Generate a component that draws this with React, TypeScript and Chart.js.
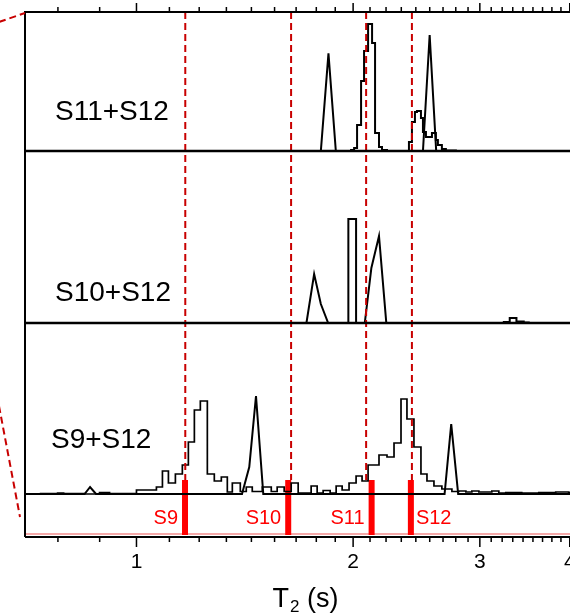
import React, { useEffect, useRef } from "react";
import { Chart, registerables } from "chart.js";
Chart.register(...registerables);

const FONT = '"Liberation Sans", Arial, sans-serif';
const X_MIN = 0.7;
const X_MAX = 4.2;
const Y_MIN = -0.43;
const Y_MAX = 4.82;
const majorTicks = [1, 2, 3, 4];
const majorTickLabels = ["1", "2", "3", "4"];
const minorDivisions = 9;

// panel baselines (stack offsets) and labels
const panelNames = ["S11+S12", "S10+S12", "S9+S12"];
const panelOffsets = [3.43, 1.71, 0];
const panelLabelY = [3.82, 2.01, 0.54];

// S11+S12 panel
const topHistT = [0.7, 1.9869, 2.0064, 2.0255, 2.0516, 2.0713, 2.0981, 2.1251, 2.1455, 2.1727, 2.1936, 2.2291, 2.3912, 2.4142, 2.4375, 2.4533, 2.4848, 2.5008, 2.5248, 2.5493, 2.5738, 2.6065, 2.6232, 2.6569, 2.6911, 2.7788, 4.2];
const topHistI = [0, 0.01, 0.03, 0.26, 0.7, 1.0, 1.27, 1.08, 0.18, 0.04, 0.01, 0, 0.09, 0.29, 0.39, 0.4, 0.33, 0.19, 0.14, 0.14, 0.18, 0.11, 0.06, 0.02, 0.005, 0, 0];
const topLineT = [0.7, 1.8038, 1.8483, 1.8924, 2.5008, 2.555, 2.609, 4.2];
const topLineI = [0, 0, 0.977, 0, 0, 1.16, 0, 0];

// S10+S12 panel
const midHistT = [0.7, 1.9698, 2.0191, 3.2391, 3.3011, 3.3728, 3.4524, 3.5081, 4.2];
const midHistI = [0, 1.04, 0, 0.01, 0.05, 0.015, 0.005, 0, 0];
const midLineT = [0.7, 1.7226, 1.7655, 1.8038, 1.8465, 2.076, 2.1203, 2.1727, 2.2241, 4.2];
const midLineI = [0, 0, 0.49, 0.19, 0, 0, 0.55, 0.87, 0, 0];

// S9+S12 panel
const botHistT = [0.7338, 0.777, 0.7921, 0.847, 0.8885, 0.9175, 0.9594, 1.0, 1.0659, 1.0866, 1.1076, 1.1326, 1.1581, 1.1806, 1.2035, 1.2267, 1.2545, 1.2828, 1.3119, 1.3373, 1.3589, 1.394, 1.4209, 1.4484, 1.4956, 1.5392, 1.5686, 1.6041, 1.6405, 1.6776, 1.7101, 1.7486, 1.7826, 1.8171, 1.8583, 1.8943, 1.9309, 1.9742, 2.0191, 2.0581, 2.0981, 2.1727, 2.2291, 2.2797, 2.3312, 2.376, 2.4297, 2.4848, 2.5331, 2.5904, 2.6569, 2.7436, 2.8054, 2.8691, 2.9246, 2.9907, 3.0582, 3.1173, 3.1878, 3.2592, 3.4304, 3.6224, 3.8246, 3.9863, 4.2];
const botHistI = [0.005, 0.01, 0.005, 0, 0.015, 0.005, 0.003, 0.04, 0.07, 0.23, 0.11, 0.2, 0.29, 0.52, 0.84, 0.93, 0.2, 0.13, 0.17, 0.02, 0.11, 0.025, 0.07, 0.025, 0.07, 0.025, 0.07, 0.025, 0.11, 0.01, 0.01, 0.08, 0.01, 0.035, 0.01, 0.08, 0.04, 0.11, 0.18, 0.13, 0.29, 0.39, 0.37, 0.51, 0.95, 0.75, 0.47, 0.2, 0.13, 0.08, 0.05, 0.025, 0.03, 0.02, 0.03, 0.02, 0.02, 0.03, 0.01, 0.015, 0.01, 0.015, 0.02, 0.015, 0.015];
const botLineT = [0.7, 0.847, 0.862, 0.8786, 1.4016, 1.4346, 1.4658, 1.5004, 2.68, 2.7375, 2.7991, 4.2];
const botLineI = [0, 0, 0.07, 0, 0, 0.27, 0.98, 0, 0, 0.7, 0, 0];

// sample markers and guide lines
const markerNames = ["S9", "S10", "S11", "S12"];
const markerT = [1.168, 1.625, 2.122, 2.406];
const guideT = [1.169, 1.64, 2.085, 2.414];
const MARK_TOP = 0.14;
const MARK_BOTTOM = -0.41;
const PINK_Y = -0.4;
const MARK_LABEL_Y = -0.24;

const pts = (ts: number[], is: number[], off: number) =>
  ts.map((t, i) => ({ x: t, y: is[i] + off }));

const decor = {
  id: "decor",
  afterDatasetsDraw(chart: any) {
    const { ctx, chartArea: a, scales } = chart;
    const x = scales.x;
    const y = scales.y;
    ctx.save();
    // frame
    ctx.strokeStyle = "#000";
    ctx.lineWidth = 2;
    ctx.beginPath();
    ctx.moveTo(a.left, a.bottom);
    ctx.lineTo(a.left, a.top);
    ctx.lineTo(a.right, a.top);
    ctx.moveTo(a.left, a.bottom);
    ctx.lineTo(a.right, a.bottom);
    ctx.stroke();
    // panel separators
    ctx.lineWidth = 2.5;
    [panelOffsets[0], panelOffsets[1]].forEach((off) => {
      const py = y.getPixelForValue(off);
      ctx.beginPath();
      ctx.moveTo(a.left, py);
      ctx.lineTo(a.right, py);
      ctx.stroke();
    });
    // ticks
    ctx.lineWidth = 1.5;
    const drawTick = (v: number, lenB: number, lenT: number) => {
      const px = x.getPixelForValue(v);
      if (px < a.left + 1 || px > a.right) return;
      ctx.beginPath();
      ctx.moveTo(px, a.bottom);
      ctx.lineTo(px, a.bottom + lenB);
      ctx.moveTo(px, a.top);
      ctx.lineTo(px, a.top - lenT);
      ctx.stroke();
    };
    majorTicks.forEach((v) => drawTick(v, 10, 9));
    for (let n = 0; n <= 4; n++) {
      for (let k = 1; k < minorDivisions; k++) {
        drawTick(n + k / minorDivisions, 5, 5);
      }
    }
    // tick labels
    ctx.fillStyle = "#000";
    ctx.font = `21px ${FONT}`;
    ctx.textAlign = "center";
    ctx.textBaseline = "alphabetic";
    majorTicks.forEach((v, i) => {
      ctx.fillText(majorTickLabels[i], x.getPixelForValue(v), a.bottom + 31);
    });
    // connector dashed lines on the left
    ctx.strokeStyle = "#c80000";
    ctx.lineWidth = 2;
    ctx.setLineDash([7, 4]);
    ctx.beginPath();
    ctx.moveTo(a.left - 26, a.top + 10);
    ctx.lineTo(a.left, a.top + 1);
    ctx.moveTo(a.left - 26, y.getPixelForValue(0.88));
    ctx.lineTo(a.left - 5, y.getPixelForValue(-0.23));
    ctx.stroke();
    ctx.setLineDash([]);
    // panel labels
    ctx.fillStyle = "#000";
    ctx.font = `28px ${FONT}`;
    ctx.textBaseline = "middle";
    ctx.textAlign = "left";
    panelNames.forEach((name, i) => {
      ctx.fillText(name, a.left + (i === 2 ? 26 : 30), y.getPixelForValue(panelLabelY[i]));
    });
    // marker labels
    ctx.fillStyle = "#ff0000";
    ctx.font = `20px ${FONT}`;
    markerNames.forEach((name, i) => {
      const px = x.getPixelForValue(markerT[i]);
      const py = y.getPixelForValue(MARK_LABEL_Y);
      if (i === markerNames.length - 1) {
        ctx.textAlign = "left";
        ctx.fillText(name, px + 5, py);
      } else {
        ctx.textAlign = "right";
        ctx.fillText(name, px - 7, py);
      }
    });
    // axis title T2 (s)
    ctx.fillStyle = "#000";
    ctx.textAlign = "left";
    ctx.textBaseline = "alphabetic";
    ctx.font = `27px ${FONT}`;
    const wT = ctx.measureText("T").width;
    const wS = ctx.measureText(" (s)").width;
    ctx.font = `17px ${FONT}`;
    const w2 = ctx.measureText("2").width;
    const cx = (a.left + a.right) / 2;
    const sx = cx - (wT + w2 + wS) / 2;
    const base = a.bottom + 70;
    ctx.font = `27px ${FONT}`;
    ctx.fillText("T", sx, base);
    ctx.font = `17px ${FONT}`;
    ctx.fillText("2", sx + wT + 1, base + 5);
    ctx.font = `27px ${FONT}`;
    ctx.fillText(" (s)", sx + wT + w2 + 1, base);
    ctx.restore();
  },
};

export default function App() {
  const ref = useRef<HTMLCanvasElement | null>(null);
  useEffect(() => {
    if (!ref.current) return;
    const black = { borderColor: "#000", borderWidth: 2, pointRadius: 0, fill: false, tension: 0 };
    const datasets: any[] = [];
    guideT.forEach((t) => {
      datasets.push({
        data: [{ x: t, y: Y_MAX }, { x: t, y: MARK_TOP }],
        borderColor: "#c80000",
        borderWidth: 2,
        borderDash: [7, 4],
        pointRadius: 0,
      });
    });
    datasets.push({ ...black, data: pts(topHistT, topHistI, panelOffsets[0]), stepped: true });
    datasets.push({ ...black, data: pts(topLineT, topLineI, panelOffsets[0]) });
    datasets.push({ ...black, data: pts(midHistT, midHistI, panelOffsets[1]), stepped: true });
    datasets.push({ ...black, data: pts(midLineT, midLineI, panelOffsets[1]) });
    datasets.push({ ...black, data: pts(botHistT, botHistI, panelOffsets[2]), stepped: true, borderWidth: 1.7 });
    datasets.push({ ...black, data: pts(botLineT, botLineI, panelOffsets[2]) });
    markerT.forEach((t) => {
      datasets.push({
        data: [{ x: t, y: MARK_TOP }, { x: t, y: MARK_BOTTOM }],
        borderColor: "#ff0000",
        borderWidth: 6,
        borderCapStyle: "butt",
        pointRadius: 0,
      });
    });
    datasets.push({
      data: [{ x: X_MIN, y: PINK_Y }, { x: X_MAX, y: PINK_Y }],
      borderColor: "#f5a8a8",
      borderWidth: 2,
      pointRadius: 0,
    });

    const chart = new Chart(ref.current, {
      type: "line",
      data: { datasets },
      options: {
        responsive: false,
        animation: false,
        devicePixelRatio: 1,
        events: [],
        layout: { padding: { left: 25, top: 12, right: 15, bottom: 0 } },
        plugins: { legend: { display: false }, tooltip: { enabled: false } },
        scales: {
          x: {
            type: "logarithmic",
            min: X_MIN,
            max: X_MAX,
            grid: { display: false, drawTicks: false },
            border: { display: false },
            ticks: { display: false },
            afterBuildTicks: (s: any) => {
              s.ticks = majorTicks.map((v) => ({ value: v }));
            },
            afterFit: (s: any) => {
              s.height = 77;
            },
          },
          y: { type: "linear", min: Y_MIN, max: Y_MAX, display: false },
        },
      },
      plugins: [decor],
    } as any);
    return () => chart.destroy();
  }, []);
  return (
    <div style={{ position: "absolute", left: 0, top: 0, width: 570, height: 614, overflow: "hidden", background: "#fff" }}>
      <canvas ref={ref} width={600} height={614} style={{ display: "block", width: 600, height: 614 }} />
    </div>
  );
}
